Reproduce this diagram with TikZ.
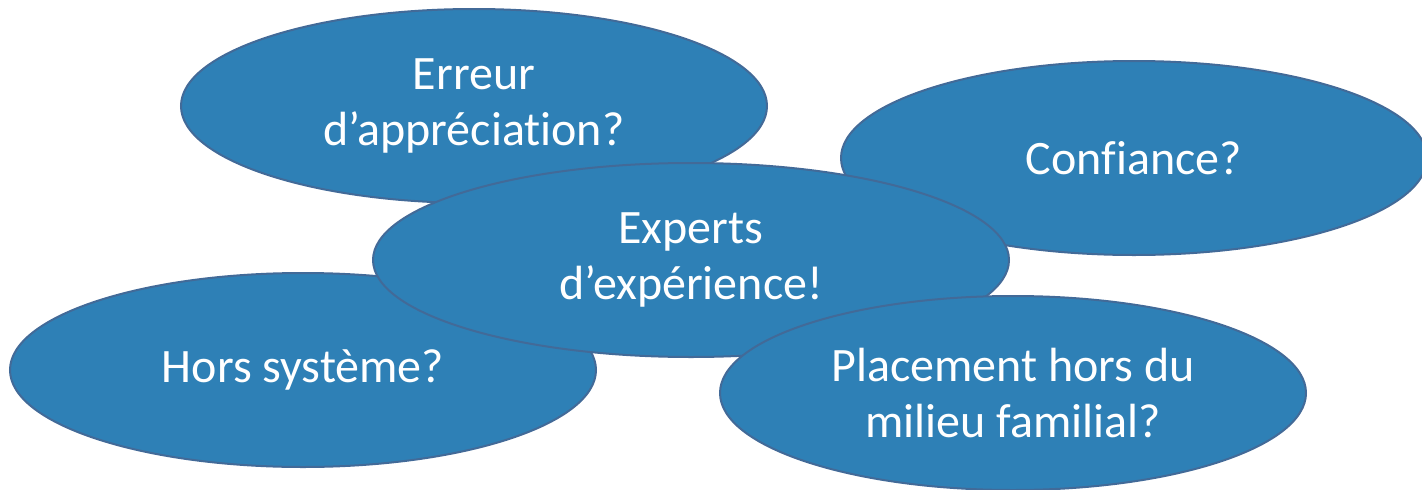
\documentclass[tikz,border=0pt]{standalone}
\usepackage{fontspec}
\setmainfont{Carlito}[Ligatures=NoCommon]
\usepackage{tikz}
\usetikzlibrary{%
  shapes.geometric,% wg. ellipse
  positioning%
}
\definecolor{bulle}{RGB}{46,128,182}
\definecolor{bord}{RGB}{66,106,152}

\begin{document}
\begin{tikzpicture}
    [   x=1pt
    ,   y=-1pt
    ,   idee/.style=
            {   % The shape:
                ellipse
            ,   minimum width=586pt
            ,   minimum height=194pt
            ,   inner sep=0pt
            ,   % The rest
                line width=2pt
            ,   draw=bord
            ,   fill=bulle
            ,   text=white
            ,   align=center
            ,   font=\fontsize{48}{56}\selectfont
            }
    ]
    \useasboundingbox (0,0) rectangle (1422,490);

    \node[idee](E) at (474,106) {Erreur\\d’appréciation?};
    \node[idee](C) at (1134,158) {Confiance?};
    \node[idee](H) at (303,370) {Hors système?};
    \node[idee,minimum width=636pt](X) at (691,260) {Experts\\d’expérience!};
    \node[idee](P) at (1013,393) {Placement hors du\\milieu familial?};
\end{tikzpicture}
\end{document}
